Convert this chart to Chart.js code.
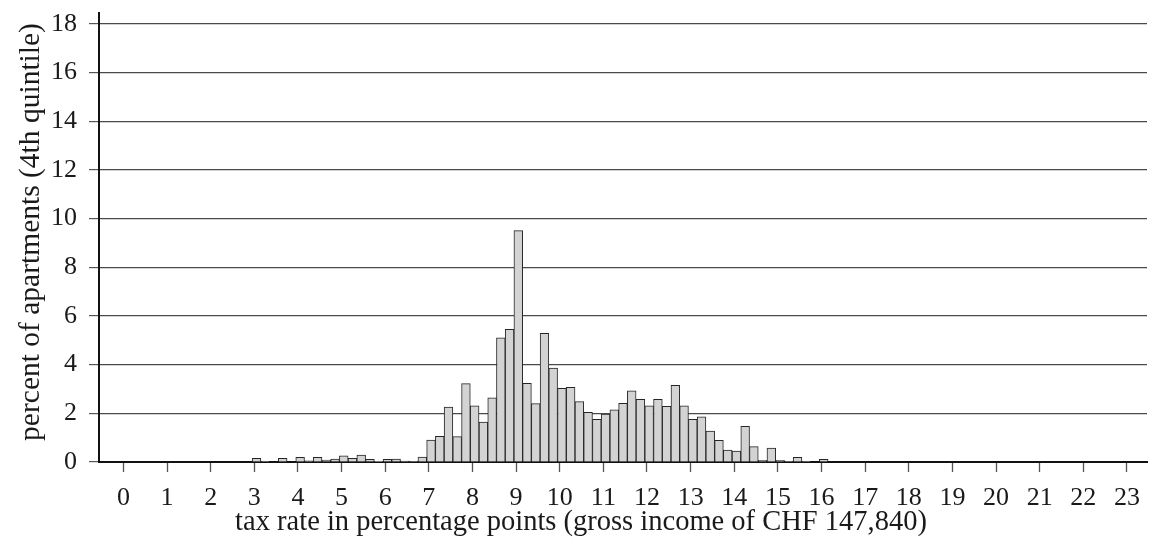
<!DOCTYPE html>
<html>
<head>
<meta charset="utf-8">
<script src="https://cdn.jsdelivr.net/npm/chart.js@4.4.1/dist/chart.umd.min.js"></script>
<style>
  html, body { margin: 0; padding: 0; background: #ffffff; }
  #wrap { width: 1153px; height: 548px; }
</style>
</head>
<body>
<div id="wrap"><canvas id="c" width="1153" height="548"></canvas></div>
<script>
// Histogram bins: first bin centre and bin width (tax rate, percentage points)
const firstBinCenter = 3.05;
const binWidth = 0.2;

// Percent of apartments per 0.2-point bin, from 3.0 up to 16.0
const percentApartments = [
  0.15, 0.03, 0.00, 0.15, 0.00,   // 3.0 - 3.8
  0.19, 0.05, 0.19, 0.08, 0.12,   // 4.0 - 4.8
  0.25, 0.15, 0.28, 0.11, 0.01,   // 5.0 - 5.8
  0.11, 0.12, 0.04, 0.03, 0.20,   // 6.0 - 6.8
  0.90, 1.05, 2.26, 1.04, 3.22,   // 7.0 - 7.8
  2.31, 1.64, 2.64, 5.10, 5.45,   // 8.0 - 8.8
  9.51, 3.23, 2.40, 5.29, 3.86,   // 9.0 - 9.8
  3.03, 3.07, 2.48, 2.04, 1.75,   // 10.0 - 10.8
  1.97, 2.14, 2.41, 2.92, 2.58,   // 11.0 - 11.8
  2.31, 2.58, 2.29, 3.15, 2.31,   // 12.0 - 12.8
  1.75, 1.86, 1.27, 0.89, 0.49,   // 13.0 - 13.8
  0.45, 1.47, 0.63, 0.07, 0.57,   // 14.0 - 14.8
  0.07, 0.03, 0.19, 0.03, 0.00,   // 15.0 - 15.8
  0.11                            // 16.0
];

const taxRateBins = percentApartments.map((_, i) => +(firstBinCenter + i * binWidth).toFixed(3));

const xTickValues = [0,1,2,3,4,5,6,7,8,9,10,11,12,13,14,15,16,17,18,19,20,21,22,23];
const yTickValues = [0,2,4,6,8,10,12,14,16,18];

const xTitle = 'tax rate in percentage points (gross income of CHF 147,840)';
const yTitle = 'percent of apartments (4th quintile)';

const serif = '"Liberation Serif", "Times New Roman", serif';

const axisTitles = {
  id: 'axisTitles',
  afterDraw(chart) {
    const ctx = chart.ctx;
    ctx.save();
    ctx.fillStyle = '#1a1a1a';
    ctx.textAlign = 'center';
    ctx.textBaseline = 'middle';
    ctx.font = '28.5px ' + serif;
    ctx.fillText(xTitle, 581, 523);
    ctx.translate(31, 232);
    ctx.rotate(-Math.PI / 2);
    ctx.font = '29.5px ' + serif;
    ctx.fillText(yTitle, 0, 0);
    ctx.restore();
  }
};

new Chart(document.getElementById('c'), {
  type: 'bar',
  data: {
    datasets: [{
      data: taxRateBins.map((x, i) => ({ x: x, y: percentApartments[i] })),
      backgroundColor: '#d3d3d3',
      borderColor: '#262626',
      borderWidth: 1,
      barPercentage: 1.0,
      categoryPercentage: 1.0
    }]
  },
  plugins: [axisTitles],
  options: {
    responsive: false,
    animation: false,
    devicePixelRatio: 1,
    layout: { padding: { top: 13, right: 6, left: 0, bottom: 0 } },
    plugins: { legend: { display: false }, tooltip: { enabled: false } },
    scales: {
      x: {
        type: 'linear',
        min: -0.56,
        max: 23.46,
        offset: false,
        afterFit: (s) => { s.height = 86; s.paddingLeft = 0; s.paddingRight = 0; },
        afterBuildTicks: (s) => { s.ticks = xTickValues.map(v => ({ value: v })); },
        ticks: {
          autoSkip: false, maxRotation: 0, minRotation: 0, includeBounds: false,
          color: '#1a1a1a', padding: 11,
          font: { family: serif, size: 26 },
          callback: (v) => String(v)
        },
        grid: {
          display: true, offset: false, drawOnChartArea: false, drawTicks: true,
          tickLength: 10, tickColor: '#555', tickWidth: 1.3
        },
        border: { display: true, color: '#111', width: 2 },
        title: { display: false }
      },
      y: {
        min: 0,
        max: 18.45,
        afterFit: (s) => { s.width = 99; s.paddingTop = 0; s.paddingBottom = 0; },
        afterBuildTicks: (s) => { s.ticks = yTickValues.map(v => ({ value: v })); },
        ticks: {
          includeBounds: false, color: '#1a1a1a', padding: 12,
          font: { family: serif, size: 26 }
        },
        grid: {
          display: true, color: '#4a4a4a', lineWidth: 1.2, drawTicks: true,
          tickLength: 10, tickColor: '#555', tickWidth: 1.2
        },
        border: { display: true, color: '#111', width: 2 },
        title: { display: false }
      }
    }
  }
});
</script>
</body>
</html>
